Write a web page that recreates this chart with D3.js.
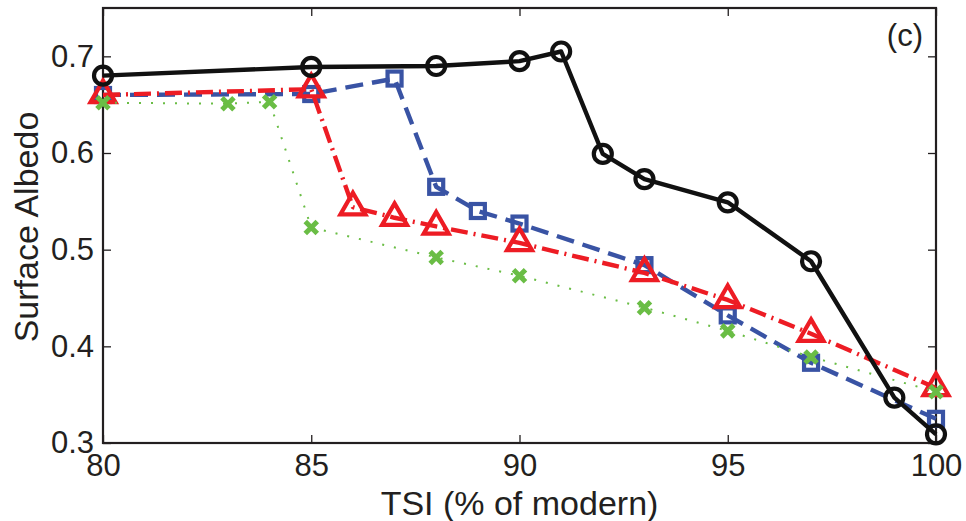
<!DOCTYPE html>
<html>
<head>
<meta charset="utf-8">
<script src="https://cdn.jsdelivr.net/npm/d3@7"></script>
<style>
  html, body { margin: 0; padding: 0; background: #fff; }
  svg { display: block; }
  text { font-family: "Liberation Sans", Arial, Helvetica, sans-serif; fill: #231f20; }
</style>
</head>
<body>
<svg id="chart" width="966" height="521"></svg>
<script>
// TSI values (% of modern) for each run
const tsiBlack = [80, 85, 88, 90, 91, 92, 93, 95, 97, 99, 100];
const albedoBlack = [0.680, 0.689, 0.690, 0.695, 0.705, 0.599, 0.573, 0.549, 0.488, 0.347, 0.309];

const tsiBlue = [80, 85, 87, 88, 89, 90, 93, 95, 97, 100];
const albedoBlue = [0.660, 0.661, 0.677, 0.565, 0.540, 0.527, 0.484, 0.432, 0.383, 0.325];

const tsiRed = [80, 85, 86, 87, 88, 90, 93, 95, 97, 100];
const albedoRed = [0.660, 0.666, 0.544, 0.533, 0.524, 0.507, 0.476, 0.448, 0.413, 0.357];

const tsiGreen = [80, 83, 84, 85, 88, 90, 93, 95, 97, 100];
const albedoGreen = [0.652, 0.651, 0.653, 0.523, 0.492, 0.473, 0.440, 0.416, 0.389, 0.353];

const xTicks = [80, 85, 90, 95, 100];
const yTicks = [0.3, 0.4, 0.5, 0.6, 0.7];
const panelLabel = "(c)";
const xTitle = "TSI (% of modern)";
const yTitle = "Surface Albedo";

const svg = d3.select("#chart");
const m = { left: 103, right: 30, top: 8, bottom: 78 };
const W = 966, H = 521;
const x = d3.scaleLinear().domain([80, 100]).range([m.left, W - m.right]);
const y = d3.scaleLinear().domain([0.3, 0.75]).range([H - m.bottom, m.top]);

const axisColor = "#231f20";
const tickLen = 8;

// Tick marks and labels: bottom/left labelled, all four sides ticked inward
const gBottom = svg.append("g").attr("transform", `translate(0,${y.range()[0]})`)
  .call(d3.axisBottom(x).tickValues(xTicks).tickSize(-tickLen).tickPadding(11).tickFormat(d3.format("d")));
const gTop = svg.append("g").attr("transform", `translate(0,${y.range()[1]})`)
  .call(d3.axisTop(x).tickValues(xTicks).tickSize(-tickLen).tickFormat(""));
const gLeft = svg.append("g").attr("transform", `translate(${x.range()[0]},0)`)
  .call(d3.axisLeft(y).tickValues(yTicks).tickSize(-tickLen).tickPadding(9).tickFormat(d3.format(".1f")));
const gRight = svg.append("g").attr("transform", `translate(${x.range()[1]},0)`)
  .call(d3.axisRight(y).tickValues(yTicks).tickSize(-tickLen).tickFormat(""));

[gBottom, gTop, gLeft, gRight].forEach(g => {
  g.select(".domain").remove();
  g.selectAll(".tick line").attr("stroke", axisColor).attr("stroke-width", 1.3);
  g.selectAll(".tick text").attr("font-size", 31).attr("font-family", "Liberation Sans, Arial, sans-serif").attr("fill", axisColor);
});
gBottom.selectAll(".tick text").attr("dy", "0.71em");

// Frame
svg.append("rect")
  .attr("x", x.range()[0]).attr("y", y.range()[1])
  .attr("width", x.range()[1] - x.range()[0])
  .attr("height", y.range()[0] - y.range()[1])
  .attr("fill", "none").attr("stroke", axisColor).attr("stroke-width", 2.2);

const line = d3.line().x(d => x(d[0])).y(d => y(d[1]));

function series(tsi, alb, color, width, dash) {
  const pts = tsi.map((t, i) => [t, alb[i]]);
  svg.append("path").datum(pts)
    .attr("d", line)
    .attr("fill", "none")
    .attr("stroke", color)
    .attr("stroke-width", width)
    .attr("stroke-dasharray", dash)
    .attr("stroke-linejoin", "round");
  return pts;
}

// Blue dashed, square markers
const blue = "#3953a4";
const bluePts = series(tsiBlue, albedoBlue, blue, 4.4, "18,9");
svg.append("g").selectAll("rect").data(bluePts).join("rect")
  .attr("x", d => x(d[0]) - 7).attr("y", d => y(d[1]) - 7)
  .attr("width", 14).attr("height", 14)
  .attr("fill", "none").attr("stroke", blue).attr("stroke-width", 4.2);

// Red dash-dot, triangle markers
const red = "#ed1c24";
const redPts = series(tsiRed, albedoRed, red, 4.4, "17,6,2,6");
const tri = d3.symbol().type(d3.symbolTriangle).size(270);
svg.append("g").selectAll("path").data(redPts).join("path")
  .attr("d", tri)
  .attr("transform", d => `translate(${x(d[0])},${y(d[1])})`)
  .attr("fill", "none").attr("stroke", red).attr("stroke-width", 4.2)
  .attr("stroke-linejoin", "miter");

// Green dotted, cross markers
const green = "#6abd45";
const greenPts = series(tsiGreen, albedoGreen, green, 2, "2,10");
svg.append("g").selectAll("path").data(greenPts).join("path")
  .attr("d", "M-6,-6L6,6M-6,6L6,-6")
  .attr("transform", d => `translate(${x(d[0])},${y(d[1])})`)
  .attr("fill", "none").attr("stroke", green).attr("stroke-width", 5);

// Black solid, circle markers
const black = "#111111";
const blackPts = series(tsiBlack, albedoBlack, black, 4.4, null);
svg.append("g").selectAll("circle").data(blackPts).join("circle")
  .attr("cx", d => x(d[0])).attr("cy", d => y(d[1]))
  .attr("r", 9)
  .attr("fill", "none").attr("stroke", black).attr("stroke-width", 4.2);

// Titles
svg.append("text")
  .attr("x", (x.range()[0] + x.range()[1]) / 2).attr("y", 515)
  .attr("text-anchor", "middle").attr("font-size", 34)
  .text(xTitle);

svg.append("text")
  .attr("transform", `translate(38,227) rotate(-90)`)
  .attr("text-anchor", "middle").attr("font-size", 34)
  .text(yTitle);

svg.append("text")
  .attr("x", 923).attr("y", 46)
  .attr("text-anchor", "end").attr("font-size", 31)
  .attr("font-family", "Open Sans, sans-serif")
  .text(panelLabel);
</script>
</body>
</html>
